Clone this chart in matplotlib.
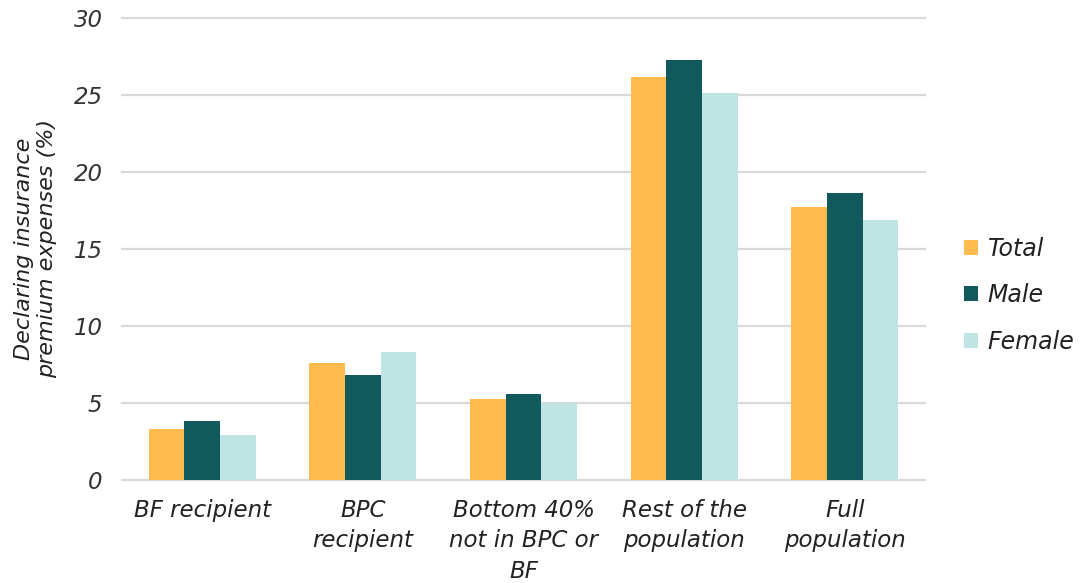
import matplotlib
matplotlib.use("Agg")
import matplotlib.pyplot as plt
import numpy as np

categories = ["BF recipient", "BPC\nrecipient", "Bottom 40%\nnot in BPC or\nBF",
              "Rest of the\npopulation", "Full\npopulation"]
total = [3.3, 7.6, 5.25, 26.15, 17.7]
male = [3.8, 6.8, 5.6, 27.3, 18.65]
female = [2.9, 8.3, 5.0, 25.1, 16.85]
yticks = [0, 5, 10, 15, 20, 25, 30]

series = [("Total", total, "#ffbb4d"),
          ("Male", male, "#10595c"),
          ("Female", female, "#c0e4e4")]

plt.rcParams["font.family"] = ["DejaVu Sans"]
plt.rcParams["font.style"] = "italic"

fig = plt.figure(figsize=(10.84, 5.83), dpi=100)
ax = fig.add_axes([0.1125, 0.177, 0.741, 0.792])

x = np.arange(len(categories))
w = 0.222
for i, (name, vals, col) in enumerate(series):
    ax.bar(x + (i - 1) * w, vals, w, color=col, label=name, zorder=3)

ax.set_xlim(-0.5, len(categories) - 0.5)
ax.set_ylim(0, 30)
ax.set_yticks(yticks)
# gridlines drawn by hand so the 0 and 30 lines are not clipped
for t in yticks:
    ax.axhline(t, color="#d9d9d9", linewidth=1.6, zorder=0, clip_on=False)
for s in ax.spines.values():
    s.set_visible(False)
ax.tick_params(length=0, labelsize=16.5, colors="#333333")
ax.tick_params(axis="y", pad=14)
ax.tick_params(axis="x", pad=14, colors="#222222")
ax.set_xticks(x)
ax.set_xticklabels(categories, linespacing=1.4)
ax.set_ylabel("Declaring insurance\npremium expenses (%)", fontsize=16,
              color="#222222", labelpad=12, linespacing=1.2)

ax.legend(loc="center left", bbox_to_anchor=(1.022, 0.40), frameon=False,
          fontsize=17, handlelength=0.6, handleheight=0.6, handletextpad=0.4,
          labelspacing=0.95, labelcolor="#222222")

fig.savefig("out.png", dpi=100)
